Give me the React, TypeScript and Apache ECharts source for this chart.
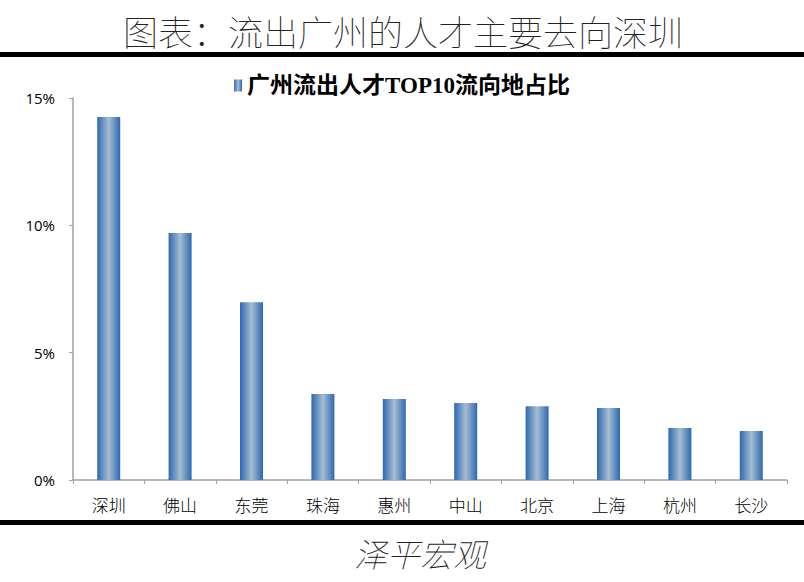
import React, { useEffect, useRef } from "react";
import * as echarts from "echarts";

const categories = ["深圳", "佛山", "东莞", "珠海", "惠州", "中山", "北京", "上海", "杭州", "长沙"];
const shares = [14.25, 9.7, 6.98, 3.38, 3.18, 3.02, 2.9, 2.83, 2.04, 1.92];
const yTicks = { min: 0, max: 15, interval: 5 };
const seriesName = "广州流出人才TOP10流向地占比";
const titleText = "图表：流出广州的人才主要去向深圳";
const footerText = "泽平宏观";

export default function App() {
  const ref = useRef<HTMLDivElement>(null);
  useEffect(() => {
    if (!ref.current) return;
    const chart = echarts.init(ref.current, undefined, { renderer: "svg" });
    const barColor = new echarts.graphic.LinearGradient(0, 0, 1, 0, [
      { offset: 0, color: "#2d68b2" },
      { offset: 0.5, color: "#a6bdd0" },
      { offset: 1, color: "#2d68b2" },
    ]);
    chart.setOption({
      animation: false,
      backgroundColor: "#ffffff",
      legend: {
        top: 69,
        left: "center",
        icon: "rect",
        itemWidth: 8,
        itemHeight: 12,
        itemGap: 9,
        textStyle: {
          fontFamily: "'Liberation Serif', 'Noto Sans CJK SC', serif",
          fontWeight: "bold",
          fontSize: 23,
          color: "#000",
        },
        data: [seriesName],
      },
      grid: { left: 73, right: 17, top: 98, bottom: 102, containLabel: false },
      xAxis: {
        type: "category",
        data: categories,
        boundaryGap: true,
        axisLine: { lineStyle: { color: "#a0a0a0", width: 1.5 } },
        axisTick: { show: true, length: 4, lineStyle: { color: "#a0a0a0" } },
        axisLabel: {
          color: "#000",
          fontSize: 17,
          margin: 16,
          fontFamily: "'Noto Sans CJK SC', sans-serif",
          fontWeight: 300,
        },
      },
      yAxis: {
        type: "value",
        min: yTicks.min,
        max: yTicks.max,
        interval: yTicks.interval,
        splitLine: { show: false },
        axisLine: { show: true, lineStyle: { color: "#a0a0a0", width: 1.5 } },
        axisTick: { show: true, length: 4, lineStyle: { color: "#a0a0a0" } },
        axisLabel: {
          formatter: "{value}%",
          color: "#000",
          fontSize: 15,
          margin: 18,
          fontFamily: "'Open Sans', 'Liberation Sans', sans-serif",
        },
      },
      series: [
        {
          name: seriesName,
          type: "bar",
          data: shares,
          barWidth: 23,
          itemStyle: { color: barColor },
        },
      ],
      graphic: [
        {
          type: "text",
          x: 403,
          y: 30,
          style: {
            text: titleText,
            fontSize: 35,
            fontWeight: 100,
            fontFamily: "'Noto Sans CJK SC', sans-serif",
            fill: "#222",
            align: "center",
            verticalAlign: "middle",
          },
        },
        { type: "rect", shape: { x: 0, y: 52, width: 804, height: 5 }, style: { fill: "#000" } },
        { type: "rect", shape: { x: 0, y: 520, width: 804, height: 5 }, style: { fill: "#000" } },
        {
          type: "text",
          x: 420,
          y: 553,
          style: {
            text: footerText,
            fontSize: 33,
            fontWeight: 100,
            fontStyle: "italic",
            fontFamily: "'Noto Sans CJK SC', sans-serif",
            fill: "#222",
            align: "center",
            verticalAlign: "middle",
          },
        },
      ],
    });
    return () => chart.dispose();
  }, []);
  return (
    <div
      ref={ref}
      style={{ position: "fixed", left: 0, top: 0, width: 804, height: 582, background: "#fff" }}
    />
  );
}
